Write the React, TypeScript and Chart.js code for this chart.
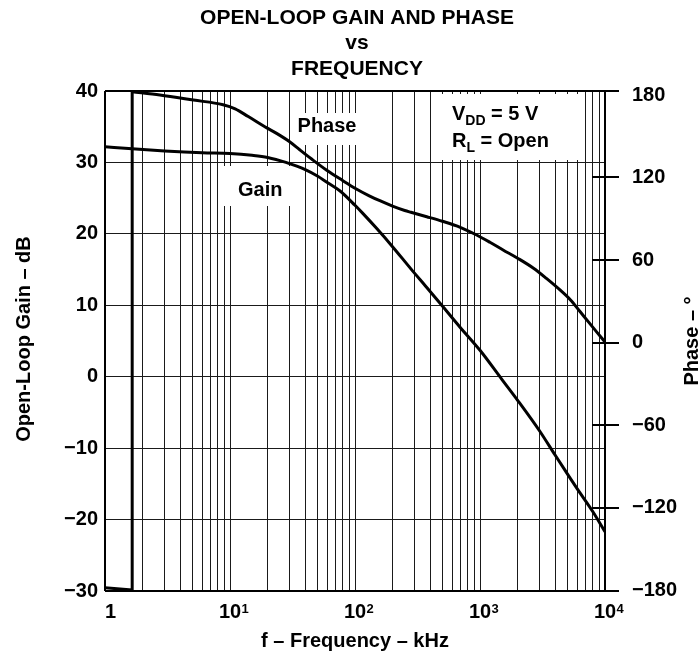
import React, { useEffect, useRef } from "react";
import { Chart, registerables } from "chart.js";

Chart.register(...registerables);

const FONT = '"Liberation Sans", Arial, Helvetica, sans-serif';

const TITLE_LINES = ["OPEN-LOOP GAIN AND PHASE", "vs", "FREQUENCY"];
const X_TITLE = "f – Frequency – kHz";
const Y_TITLE = "Open-Loop Gain – dB";
const Y2_TITLE = "Phase – °";

const DECADES = [1, 10, 100, 1000, 10000];
const DECADE_BASE = ["1", "10", "10", "10", "10"];
const DECADE_EXP = ["", "1", "2", "3", "4"];
const GRID_MULTIPLIERS = [1, 2, 3, 4, 5, 6, 7, 8, 9];
const GAIN_TICKS = [-30, -20, -10, 0, 10, 20, 30, 40];
const PHASE_TICKS = [-180, -120, -60, 0, 60, 120, 180];

const GAIN_FREQ = [1, 1.65, 3, 6, 10, 15, 20, 28, 40, 50, 60, 76, 100, 115, 150, 202, 280, 375, 500, 695, 1000, 1500, 2000, 3000, 4000, 5000, 6000, 8000, 10000];
const GAIN_DB = [32.2, 31.9, 31.6, 31.35, 31.25, 31.0, 30.7, 30.0, 29.0, 28.1, 27.2, 26.0, 24.0, 22.9, 20.7, 18.1, 15.1, 12.5, 9.9, 6.9, 3.7, -0.4, -3.3, -7.6, -11.0, -13.6, -15.7, -18.9, -21.7];

const PHASE_FREQ = [1.65, 2.75, 5.1, 8.8, 11, 14, 19.7, 23.6, 30, 36.3, 45, 59.4, 80, 100, 130, 158, 202, 250, 280, 375, 500, 695, 940, 1200, 1530, 2000, 2680, 3400, 4365, 5300, 6310, 7400, 8630, 10000];
const PHASE_DEG = [182.4, 180.0, 176.3, 172.9, 169.9, 164.3, 156.1, 152.1, 146.0, 140.0, 133.4, 125.3, 117.7, 112.2, 106.7, 103.1, 99.0, 96.0, 94.7, 91.5, 88.2, 83.8, 78.2, 72.9, 67.3, 61.3, 54.0, 46.6, 38.2, 30.9, 22.5, 14.8, 7.4, 0.3];

const WRAP_FREQ = [1, 1.65, 1.65];
const WRAP_DEG = [-178.3, -180.0, 182.4];

const fmt = (v: number) => (v < 0 ? "\u2212" + Math.abs(v) : String(v));

// annotation anchors in data units (kHz, dB); box offsets in px around the text anchor
const NOTES = [
  { text: "Phase", f: 34.7, db: 34.26, box: [-3.5, -19, 66.5, 13] },
  { text: "Gain", f: 11.6, db: 25.3, box: [-17, -30, 55, 10] },
];
const COND_ANCHOR = { f: 597, db: 35.94 };
const COND_BOX = [-10, -26, 127, 40];
const COND_LINES = [
  { main: "V", sub: "DD", rest: " = 5 V" },
  { main: "R", sub: "L", rest: " = Open" },
];

const bold = (px: number) => `bold ${px}px ${FONT}`;

const decorPlugin = {
  id: "decor",
  beforeDatasetsDraw(chart: any) {
    const { ctx, scales } = chart;
    const xs = scales.x;
    const ys = scales.y;
    ctx.save();
    ctx.textBaseline = "alphabetic";
    ctx.textAlign = "left";
    for (const n of NOTES) {
      const ax = xs.getPixelForValue(n.f);
      const ay = ys.getPixelForValue(n.db);
      ctx.fillStyle = "#fff";
      ctx.fillRect(ax + n.box[0], ay + n.box[1], n.box[2] - n.box[0], n.box[3] - n.box[1]);
      ctx.fillStyle = "#000";
      ctx.font = bold(20);
      ctx.fillText(n.text, ax, ay);
    }
    const cx = xs.getPixelForValue(COND_ANCHOR.f);
    const cy = ys.getPixelForValue(COND_ANCHOR.db);
    ctx.fillStyle = "#fff";
    ctx.fillRect(cx + COND_BOX[0], cy + COND_BOX[1], COND_BOX[2] - COND_BOX[0], COND_BOX[3] - COND_BOX[1]);
    ctx.fillStyle = "#000";
    COND_LINES.forEach((ln, i) => {
      const by = cy + i * 27;
      let px = cx;
      ctx.font = bold(20);
      ctx.fillText(ln.main, px, by);
      px += ctx.measureText(ln.main).width;
      ctx.font = bold(14);
      ctx.fillText(ln.sub, px, by + 5);
      px += ctx.measureText(ln.sub).width;
      ctx.font = bold(20);
      ctx.fillText(ln.rest, px, by);
    });
    ctx.restore();
  },
  afterDraw(chart: any) {
    const { ctx, chartArea, scales } = chart;
    const { left, right, top, bottom } = chartArea;
    const xs = scales.x;
    const y2 = scales.y2;
    ctx.save();
    ctx.strokeStyle = "#000";
    ctx.lineWidth = 2;
    ctx.beginPath();
    ctx.moveTo(left, top);
    ctx.lineTo(right + 14, top);
    ctx.moveTo(left, bottom);
    ctx.lineTo(right + 14, bottom);
    ctx.moveTo(left, top);
    ctx.lineTo(left, bottom);
    ctx.moveTo(right, top);
    ctx.lineTo(right, bottom);
    for (const v of PHASE_TICKS) {
      if (Math.abs(v) === 180) continue;
      const py = Math.round(y2.getPixelForValue(v));
      ctx.moveTo(right - 13, py);
      ctx.lineTo(right + 14, py);
    }
    ctx.stroke();

    // x tick labels with superscript exponents
    ctx.fillStyle = "#000";
    ctx.textBaseline = "alphabetic";
    ctx.textAlign = "left";
    DECADES.forEach((d, i) => {
      const px = xs.getPixelForValue(d);
      ctx.font = bold(20);
      const base = DECADE_BASE[i];
      const w = ctx.measureText(base).width;
      if (!DECADE_EXP[i]) {
        ctx.fillText(base, px, bottom + 27);
      } else {
        ctx.fillText(base, px - w / 2, bottom + 27);
        ctx.font = bold(13);
        ctx.fillText(DECADE_EXP[i], px + w / 2 + 0.5, bottom + 21.5);
      }
    });

    // axis titles
    ctx.font = bold(20);
    ctx.textAlign = "center";
    ctx.fillText(X_TITLE, (left + right) / 2, bottom + 56);

    ctx.save();
    ctx.translate(30, (top + bottom) / 2 - 2);
    ctx.rotate(-Math.PI / 2);
    ctx.fillText(Y_TITLE, 0, 0);
    ctx.restore();

    ctx.save();
    ctx.translate(697.5, (top + bottom) / 2);
    ctx.rotate(-Math.PI / 2);
    ctx.fillText(Y2_TITLE, 0, 0);
    ctx.restore();

    // chart title
    ctx.font = bold(21);
    const tx = 357;
    const baselines = [23.5, 49, 75];
    TITLE_LINES.forEach((t, i) => ctx.fillText(t, tx, baselines[i]));
    ctx.restore();
  },
};

export default function App() {
  const ref = useRef<HTMLCanvasElement | null>(null);
  useEffect(() => {
    if (!ref.current) return;
    const gridTicks: number[] = [];
    DECADES.forEach((d, i) => {
      if (i === DECADES.length - 1) gridTicks.push(d);
      else GRID_MULTIPLIERS.forEach((m) => gridTicks.push(d * m));
    });
    const lineStyle = {
      borderColor: "#000",
      backgroundColor: "#000",
      borderWidth: 3,
      pointRadius: 0,
      fill: false,
    };
    const chart = new Chart(ref.current, {
      type: "line",
      data: {
        datasets: [
          {
            ...lineStyle,
            label: "Gain",
            yAxisID: "y",
            cubicInterpolationMode: "monotone",
            data: GAIN_FREQ.map((f, i) => ({ x: f, y: GAIN_DB[i] })),
          },
          {
            ...lineStyle,
            label: "Phase",
            yAxisID: "y2",
            cubicInterpolationMode: "monotone",
            data: PHASE_FREQ.map((f, i) => ({ x: f, y: PHASE_DEG[i] })),
          },
          {
            ...lineStyle,
            label: "Phase wrap",
            yAxisID: "y2",
            tension: 0,
            data: WRAP_FREQ.map((f, i) => ({ x: f, y: WRAP_DEG[i] })),
          },
        ],
      },
      options: {
        animation: false,
        responsive: false,
        events: [],
        layout: { padding: { top: 91, left: 0, right: 0, bottom: 0 } },
        plugins: { legend: { display: false }, tooltip: { enabled: false }, title: { display: false } },
        scales: {
          x: {
            type: "logarithmic",
            position: "bottom",
            min: 1,
            max: 10000,
            afterBuildTicks: (s: any) => {
              s.ticks = gridTicks.map((v) => ({ value: v }));
            },
            afterFit: (s: any) => {
              s.height = 68;
            },
            ticks: { display: false, autoSkip: false },
            grid: { color: "#1a1a1a", lineWidth: 1, drawTicks: false },
            border: { display: false },
          },
          y: {
            type: "linear",
            position: "left",
            min: -30,
            max: 40,
            afterBuildTicks: (s: any) => {
              s.ticks = GAIN_TICKS.map((v) => ({ value: v }));
            },
            afterFit: (s: any) => {
              s.width = 105;
            },
            ticks: {
              color: "#000",
              padding: 7,
              font: { family: FONT, size: 20, weight: "bold" },
              callback: (v: any) => fmt(Number(v)),
            },
            grid: { color: "#1a1a1a", lineWidth: 1, drawTicks: false },
            border: { display: false },
          },
          y2: {
            type: "linear",
            position: "right",
            min: -180.7,
            max: 182.9,
            afterBuildTicks: (s: any) => {
              s.ticks = PHASE_TICKS.map((v) => ({ value: v }));
            },
            afterFit: (s: any) => {
              s.width = 94;
            },
            ticks: {
              color: "#000",
              padding: 27,
              font: { family: FONT, size: 20, weight: "bold" },
              callback: (v: any) => fmt(Number(v)),
            },
            grid: { drawOnChartArea: false, drawTicks: false },
            border: { display: false },
          },
        },
      } as any,
      plugins: [decorPlugin],
    });
    return () => chart.destroy();
  }, []);
  return (
    <div style={{ position: "fixed", left: 0, top: 0, width: 699, height: 659, background: "#fff" }}>
      <canvas ref={ref} width={699} height={659} style={{ display: "block", width: 699, height: 659 }} />
    </div>
  );
}
